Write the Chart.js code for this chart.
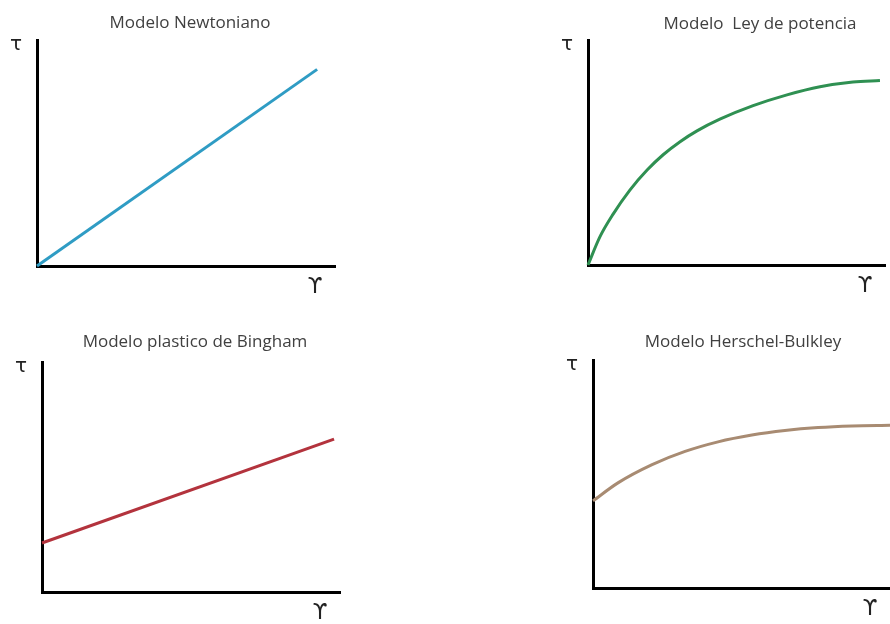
<!DOCTYPE html>
<html>
<head>
<meta charset="utf-8">
<script src="https://cdn.jsdelivr.net/npm/chart.js@4.4.1/dist/chart.umd.min.js"></script>
<style>
  html, body { margin: 0; padding: 0; background: #fff; }
  #page { position: relative; width: 890px; height: 624px; overflow: hidden; background: #fff; }
  canvas { position: absolute; }
</style>
</head>
<body>
<div id="page">
  <canvas id="c0" width="445" height="312" style="left:0;top:0"></canvas>
  <canvas id="c1" width="445" height="312" style="left:445px;top:0"></canvas>
  <canvas id="c2" width="445" height="312" style="left:0;top:312px"></canvas>
  <canvas id="c3" width="445" height="312" style="left:445px;top:312px"></canvas>
</div>
<script>
const titles = ["Modelo Newtoniano", "Modelo  Ley de potencia", "Modelo plastico de Bingham", "Modelo Herschel-Bulkley"];
const yLabel = "τ";
const xLabel = "ϒ";

const newtonX = [0, 94];
const newtonY = [0, 87];

const powerX = [0, 4, 8.4, 14.1, 19.9, 25.3, 31, 36.7, 44.4, 55.6, 67, 78.1, 89.2, 98.3];
const powerY = [0, 12.5, 22.5, 33.3, 42.2, 49, 54.8, 59.6, 64.8, 70.8, 75.6, 79.2, 81.3, 82];

const binghamX = [0, 98];
const binghamY = [21.3, 66.5];

const hbX = [0, 8.4, 19.9, 31, 42.1, 53.5, 64.6, 75.8, 87.2, 100];
const hbY = [38.2, 46.1, 54.1, 59.9, 64.1, 67.1, 69.1, 70.4, 71.1, 71.4];

const colors = ["#2f9cc4", "#2f9052", "#b3333d", "#a88b72"];

// padding puts the plot area where the axes sit in the picture
const layouts = [
  { pad: { left: 37, top: 40, right: 110, bottom: 46 }, titleX: 190, titleY: 23 },
  { pad: { left: 143, top: 40, right: 5, bottom: 47 }, titleX: 315, titleY: 24 },
  { pad: { left: 42, top: 50, right: 105, bottom: 32 }, titleX: 195, titleY: 30 },
  { pad: { left: 148, top: 48, right: 0, bottom: 36 }, titleX: 298, titleY: 30 },
];

const toPoints = (xs, ys) => xs.map((x, i) => ({ x: x, y: ys[i] }));

const labelsPlugin = {
  id: "labels",
  afterDraw: (chart) => {
    const opts = chart.options.plugins.labels;
    const ctx = chart.ctx;
    const area = chart.chartArea;
    ctx.save();
    ctx.textAlign = "center";
    ctx.textBaseline = "middle";
    ctx.fillStyle = "#404040";
    ctx.font = "17px 'Open Sans'";
    ctx.fillText(opts.title, opts.titleX, opts.titleY);
    ctx.fillStyle = "#222";
    ctx.font = "20px 'DejaVu Sans'";
    ctx.fillText(yLabel, area.left - 21, area.top + 5);
    ctx.font = "21px 'DejaVu Sans'";
    ctx.fillText(xLabel, area.right - 20, area.bottom + 22);
    ctx.restore();
  },
};

const axis = () => ({
  type: "linear",
  min: 0,
  max: 100,
  grid: { display: false, drawTicks: false },
  ticks: { display: false },
  border: { display: true, color: "#000", width: 3 },
});

const makeChart = (i, points) => {
  const ctx = document.getElementById("c" + i).getContext("2d");
  return new Chart(ctx, {
    type: "line",
    data: {
      datasets: [
        {
          data: points,
          borderColor: colors[i],
          borderWidth: 3,
          pointRadius: 0,
          cubicInterpolationMode: "monotone",
          clip: false,
          fill: false,
        },
      ],
    },
    options: {
      responsive: false,
      animation: false,
      layout: { padding: layouts[i].pad },
      plugins: {
        legend: { display: false },
        tooltip: { enabled: false },
        labels: { title: titles[i], titleX: layouts[i].titleX, titleY: layouts[i].titleY },
      },
      scales: { x: axis(), y: axis() },
    },
    plugins: [labelsPlugin],
  });
};

makeChart(0, toPoints(newtonX, newtonY));
makeChart(1, toPoints(powerX, powerY));
makeChart(2, toPoints(binghamX, binghamY));
makeChart(3, toPoints(hbX, hbY));
</script>
</body>
</html>
